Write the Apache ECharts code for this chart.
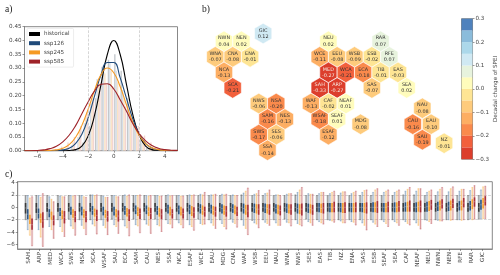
<!DOCTYPE html>
<html><head><meta charset="utf-8">
<style>html,body{margin:0;padding:0;background:#fff}#c{width:500px;height:275px}</style>
<script src="https://cdn.jsdelivr.net/npm/echarts@6/dist/echarts.min.js"></script>
</head><body><div id="c"></div>
<script>
// ---------- panel a: curves (at half-unit steps)
const curveX = [-7,-6.5,-6,-5.5,-5,-4.5,-4,-3.5,-3,-2.5,-2,-1.5,-1,-0.5,0,0.5,1,1.5,2,2.5,3,3.5,4,4.5,5];
const curveHist = [0,0,0,0,0,0,0,0.001,0.004,0.017,0.054,0.13,0.24,0.35,0.40,0.35,0.24,0.13,0.056,0.017,0.004,0.001,0,0,0];
const curve126 = [0,0,0,0,0,0.001,0.003,0.009,0.026,0.06,0.12,0.20,0.275,0.32,0.32,0.265,0.19,0.115,0.06,0.026,0.01,0.003,0.001,0,0];
const curve245 = [0,0,0,0,0.001,0.003,0.0085,0.022,0.048,0.092,0.152,0.22,0.276,0.30,0.283,0.233,0.166,0.102,0.055,0.026,0.0105,0.004,0.001,0,0];
const curve585 = [0,0,0.001,0.003,0.0075,0.016,0.032,0.056,0.09,0.134,0.178,0.217,0.241,0.243,0.224,0.185,0.143,0.098,0.062,0.036,0.019,0.0088,0.004,0.0017,0.001];
// ---------- panel a: histogram bars
const binX = [-5.25,-4.75,-4.25,-3.75,-3.25,-2.75,-2.25,-1.75,-1.25,-0.75,-0.25,0.25,0.75,1.25,1.75,2.25,2.75];
const binHist = [0,0,0,0,0.002,0.008,0.03,0.09,0.19,0.305,0.33,0.35,0.29,0.19,0.10,0.04,0.01];
const bin126 = [0,0,0.002,0.006,0.02,0.05,0.10,0.17,0.26,0.31,0.32,0.29,0.22,0.14,0.08,0.03,0.01];
const bin245 = [0,0.001,0.003,0.01,0.03,0.07,0.12,0.19,0.26,0.28,0.29,0.25,0.19,0.13,0.08,0.04,0.015];
const bin585 = [0.002,0.006,0.015,0.03,0.05,0.09,0.14,0.19,0.235,0.24,0.23,0.20,0.16,0.12,0.09,0.055,0.03];
const scenarios = ['historical','ssp126','ssp245','ssp585'];
// ---------- panel b: hexagon map
const hexNames = ['GIC','NWN','NEN','WNA','CNA','ENA','NCA','SCA','NWS','NSA','SAM','NES','SWS','SES','SSA','NEU','WCE','EEU','WSB','ESB','RFE','RAR','MED','WCA','ECA','TIB','EAS','SAH','ARP','SAS','SEA','WAF','CAF','NEAF','WSAF','SEAF','ESAF','MDG','NAU','CAU','EAU','SAU','NZ'];
const hexValues = [0.12,0.04,0.02,-0.07,-0.08,-0.01,-0.13,-0.21,-0.06,-0.20,-0.16,-0.13,-0.17,-0.06,-0.14,0.02,-0.11,-0.08,-0.09,-0.02,0.07,0.07,-0.27,-0.21,-0.18,-0.01,-0.03,-0.33,-0.27,-0.07,0.02,-0.13,-0.02,0.01,-0.18,0.01,-0.12,-0.08,-0.08,-0.16,-0.10,-0.19,-0.01];
const hexCol = [4.5,0,2,-1,1,3,0,1,4,6,5,7,4,6,5,12,11,13,15,17,19,18,12,14,16,18,20,11,13,17,21,10,12,14,11,13,12,15.7,22.8,21.7,23.8,22.8,25.3];
const hexRow = [-0.5,0,0,1,1,1,2,3,4,4,5,5,6,6,7,0,1,1,1,1,1,0,2,2,2,2,2,3,3,3,3,4,4,4,5,5,6,5.33,4.3,5.33,5.33,6.33,6.55];
const bandEdges = [-0.25,-0.2,-0.15,-0.1,-0.05,0,0.05,0.1,0.15,0.2,0.25];
const bandColors = ['#dc3e2c','#f2603c','#fa8a4c','#fdae63','#fecb7c','#fee594','#fffcbc','#e7f3dd','#d0e9f3','#acd8ea','#8bbcdb','#4f82bd'];
const cbTicks = [-0.3,-0.2,-0.1,0,0.1,0.2,0.3];
// ---------- panel c: box statistics per region
const regions = ['SAH','ARP','MED','WCA','SWS','NSA','SCA','WSAF','SAU','ECA','SAM','CAU','NES','SSA','NCA','ESAF','WCE','EAU','MDG','CNA','WAF','WSB','EEU','NAU','WNA','NWS','SES','EAS','TIB','NZ','ENA','SAS','ESB','SEAF','SEA','CAF','NEAF','NEU','NWN','NEN','RFE','RAR','GIC'];
const histLo = [-2.0,-2.0,-2.0,-2.0,-1.9,-2.0,-2.0,-2.0,-1.9,-2.0,-1.9,-2.0,-1.9,-2.0,-2.0,-2.0,-1.9,-2.0,-2.0,-1.9,-2.0,-2.1,-2.0,-2.0,-1.9,-2.0,-1.9,-2.0,-2.0,-2.0,-2.0,-2.0,-2.0,-2.0,-2.0,-2.0,-2.0,-2.0,-2.0,-2.0,-2.0,-2.0,-1.9];
const histHi = [1.9,1.9,1.9,1.9,1.9,1.9,2.0,1.9,1.9,1.9,1.9,1.9,1.9,1.9,1.9,1.9,1.9,1.9,1.9,1.9,2.0,1.9,1.9,1.9,1.9,2.0,1.9,1.9,1.9,1.9,1.9,1.9,1.9,1.9,1.9,2.0,2.0,1.9,1.9,1.9,1.9,1.9,1.9];
const histQ1 = [-1.0,-0.9,-0.7,-0.7,-0.7,-0.7,-0.7,-0.7,-0.7,-0.7,-0.7,-0.7,-0.7,-0.7,-0.7,-0.7,-0.7,-0.7,-0.7,-0.7,-0.7,-0.7,-0.7,-0.7,-0.7,-0.7,-0.7,-0.7,-0.7,-0.7,-0.7,-0.7,-0.7,-0.7,-0.7,-0.7,-0.7,-0.7,-0.7,-0.7,-0.7,-0.7,-0.7];
const histQ3 = [0.7,0.7,0.7,0.7,0.7,0.7,0.7,0.7,0.7,0.7,0.7,0.7,0.7,0.7,0.7,0.7,0.7,0.7,0.7,0.7,0.7,0.7,0.7,0.7,0.7,0.7,0.7,0.7,0.7,0.7,0.7,0.7,0.7,0.7,0.7,0.7,0.7,0.7,0.7,0.7,0.7,0.7,0.7];
const histMed = [-0.1,-0.1,0,0,0,0,0,0,0,0,0,0,0,0,0,0,0,0,0,0,0,0,0,0,0,0,0,0,0,0,0,0,0,0,0,0,0,0,0,0,0,0,0];
const b126Lo = [-3.6,-3.6,-3.1,-3.1,-3.0,-2.9,-2.7,-2.9,-2.8,-3.0,-2.8,-2.7,-2.8,-2.6,-2.5,-2.8,-2.6,-2.5,-2.6,-2.4,-2.9,-2.5,-2.4,-2.5,-2.4,-2.6,-2.3,-2.3,-2.1,-2.2,-2.3,-2.5,-2.4,-2.3,-2.3,-2.3,-2.5,-2.1,-2.1,-2.0,-2.0,-1.9,-1.8];
const b126Hi = [1.9,1.9,1.7,1.8,1.9,1.9,2.0,1.8,1.9,2.0,1.9,1.9,1.9,2.0,1.9,2.0,2.1,2.0,2.1,2.0,2.3,2.1,2.2,2.0,2.1,2.4,2.2,2.2,2.2,2.3,2.2,2.4,2.4,2.4,2.4,2.6,2.6,2.4,2.5,2.5,2.6,2.7,2.8];
const b126Q1 = [-1.9,-1.8,-1.6,-1.4,-1.2,-1.3,-1.2,-1.3,-1.3,-1.2,-1.1,-1.1,-1.2,-1.0,-1.1,-1.1,-1.0,-1.0,-1.0,-0.9,-1.0,-0.9,-0.9,-1.0,-0.9,-1.0,-0.9,-0.8,-0.8,-0.8,-0.8,-0.8,-0.8,-0.8,-0.8,-0.7,-0.8,-0.7,-0.6,-0.6,-0.5,-0.5,-0.4];
const b126Q3 = [-0.3,-0.2,-0.3,-0.1,0.1,0.1,0.2,0.1,0.1,0.2,0.3,0.3,0.2,0.4,0.3,0.4,0.5,0.4,0.5,0.5,0.6,0.6,0.6,0.5,0.6,0.6,0.6,0.7,0.7,0.7,0.7,0.7,0.8,0.7,0.8,0.8,0.8,0.9,0.9,0.9,1.0,1.0,1.2];
const b126Med = [-1.1,-1.0,-0.9,-0.7,-0.6,-0.6,-0.5,-0.6,-0.6,-0.5,-0.4,-0.4,-0.5,-0.3,-0.4,-0.3,-0.2,-0.3,-0.2,-0.2,-0.2,-0.1,-0.1,-0.2,-0.1,-0.2,-0.1,0,0,0,0,0,0,0,0,0.1,0,0.1,0.2,0.2,0.2,0.3,0.4];
const b245Lo = [-4.5,-4.8,-3.6,-3.9,-3.4,-3.4,-3.0,-3.3,-3.1,-3.3,-3.0,-2.9,-3.0,-2.7,-2.8,-3.1,-2.8,-2.9,-3.1,-2.6,-3.4,-2.7,-2.6,-2.9,-2.5,-2.8,-2.5,-2.5,-2.2,-2.5,-2.4,-2.9,-2.7,-2.6,-2.5,-2.6,-2.9,-2.3,-2.2,-2.1,-2.1,-2.0,-1.8];
const b245Hi = [1.5,1.6,1.3,1.7,1.8,1.7,1.9,1.6,1.7,1.8,1.9,1.8,1.8,1.8,1.8,1.9,2.0,2.0,2.0,1.9,2.6,2.2,2.3,2.0,2.2,2.8,2.1,2.4,2.4,2.5,2.4,2.7,2.8,2.6,2.6,2.9,3.0,2.6,2.9,3.0,2.9,3.2,3.3];
const b245Q1 = [-2.7,-2.5,-2.0,-1.9,-1.7,-1.7,-1.5,-1.7,-1.6,-1.5,-1.4,-1.4,-1.5,-1.3,-1.3,-1.4,-1.2,-1.2,-1.2,-1.1,-1.2,-1.0,-1.0,-1.1,-1.0,-1.1,-1.0,-0.9,-0.8,-0.9,-0.8,-0.9,-0.8,-0.8,-0.8,-0.7,-0.7,-0.6,-0.5,-0.5,-0.5,-0.3,-0.2];
const b245Q3 = [-1.2,-1.0,-0.7,-0.5,-0.3,-0.3,-0.2,-0.4,-0.3,-0.1,0,0,-0.1,0.1,0.1,0.2,0.3,0.2,0.3,0.3,0.4,0.5,0.5,0.4,0.5,0.5,0.5,0.6,0.7,0.7,0.7,0.7,0.8,0.7,0.8,0.9,0.9,1.0,1.1,1.1,1.1,1.3,1.5];
const b245Med = [-2.0,-1.8,-1.4,-1.2,-1.0,-1.0,-0.8,-1.0,-0.9,-0.8,-0.7,-0.7,-0.8,-0.6,-0.6,-0.6,-0.5,-0.5,-0.5,-0.4,-0.4,-0.3,-0.2,-0.4,-0.3,-0.3,-0.2,-0.2,-0.1,-0.1,0,-0.1,0,0,0,0.1,0.1,0.2,0.3,0.3,0.3,0.5,0.6];
const b585Lo = [-6.2,-6.3,-5.0,-4.7,-4.5,-4.4,-4.3,-4.4,-4.2,-4.6,-4.1,-4.2,-3.9,-3.3,-3.3,-3.7,-2.7,-3.4,-3.5,-3.2,-4.4,-3.3,-2.9,-2.9,-3.0,-3.0,-2.9,-2.7,-2.4,-2.5,-2.85,-3.65,-3.1,-3.1,-2.9,-2.85,-3.5,-2.6,-2.2,-2.0,-2.0,-1.9,-1.8];
const b585Hi = [1.7,2.2,0.9,1.7,1.9,1.6,2.0,1.6,1.7,2.0,2.0,1.9,1.8,1.9,1.8,2.0,2.4,2.1,2.1,1.9,3.1,2.7,2.8,1.9,2.2,3.2,2.1,2.4,2.6,2.5,2.6,2.8,3.0,2.8,2.8,3.2,3.0,2.8,3.2,3.3,2.9,3.5,3.4];
const b585Q1 = [-3.6,-3.3,-2.9,-2.6,-2.4,-2.4,-2.2,-2.3,-2.3,-2.2,-1.9,-1.9,-1.9,-1.8,-1.8,-1.7,-1.5,-1.5,-1.5,-1.4,-1.6,-1.2,-1.2,-1.3,-1.2,-1.3,-1.2,-1.0,-0.8,-0.9,-0.8,-1.0,-0.9,-0.8,-0.7,-0.7,-0.8,-0.4,-0.2,-0.1,0,0.1,0.3];
const b585Q3 = [-1.8,-0.8,-1.3,-0.6,-0.6,-0.6,-0.4,-0.6,-0.5,-0.3,-0.2,-0.1,-0.3,-0.3,-0.2,0,0.1,0.1,0.2,0.1,0.4,0.5,0.5,0.3,0.5,0.6,0.4,0.7,0.9,0.8,0.8,0.8,1.0,0.9,1.0,1.1,1.1,1.2,1.3,1.4,1.5,1.6,1.8];
const b585Med = [-2.8,-2.2,-2.1,-1.6,-1.5,-1.5,-1.3,-1.5,-1.4,-1.2,-1.0,-1.0,-1.1,-1.0,-1.0,-0.8,-0.7,-0.7,-0.6,-0.6,-0.6,-0.3,-0.3,-0.5,-0.3,-0.3,-0.4,-0.1,0,0,0,-0.1,0,0.1,0.1,0.2,0.1,0.4,0.5,0.6,0.7,0.9,1.0];

const curveColors = ['#000000','#1f4a7a','#f59a23','#9e2228'];
const barColors = ['#c4c8cc','#d5dee8','#fbe3c4','#f3d5d2'];
const wiskColors = ['#666666','#6f94b8','#f8b860','#c4656a'];
const paleColors = ['rgba(120,125,130,0.30)','rgba(90,130,170,0.14)','rgba(245,160,60,0.14)','rgba(190,80,80,0.16)'];
const boxColors = ['#3a3a3a','#2a5585','#f5a030','#a8303a'];
const font = 'DejaVu Sans';
const axisText = {color:'#444',fontSize:5.6,fontFamily:font};
const spine = {show:true,onZero:false,lineStyle:{color:'#888',width:1}};
const tickS = {show:true,length:2,lineStyle:{color:'#555',width:0.6}};

function bandColor(v){let i=0;while(i<bandEdges.length&&v>=bandEdges[i])i++;return bandColors[i];}
const zip2=(a,b)=>a.map((v,i)=>[v,b[i]]);

const series=[];
// histogram bars
[binHist,bin126,bin245,bin585].forEach((d,i)=>series.push({type:'bar',name:'bar'+i,xAxisIndex:0,yAxisIndex:0,data:zip2(binX,d),barWidth:1.4,barGap:'0%',itemStyle:{color:barColors[i]},silent:true,z:1}));
// curves
[curveHist,curve126,curve245,curve585].forEach((d,i)=>{
  const s={type:'line',name:scenarios[i],xAxisIndex:0,yAxisIndex:0,data:zip2(curveX,d),smooth:0.5,showSymbol:false,lineStyle:{color:curveColors[i],width:1.1},itemStyle:{color:curveColors[i]},z:3};
  if(i===0)s.markLine={silent:true,symbol:'none',label:{show:false},lineStyle:{color:'#c4c4c4',type:'dashed',width:0.7},data:[{xAxis:-2},{xAxis:2}]};
  series.push(s);
});
// hexagons
series.push({type:'scatter',xAxisIndex:1,yAxisIndex:1,clip:false,
  symbol:'path://M0,-1 L0.866,-0.5 L0.866,0.5 L0,1 L-0.866,0.5 L-0.866,-0.5 Z',
  symbolSize:[17.3,20.6],
  data:hexNames.map((n,i)=>({name:n,value:[hexCol[i],hexRow[i],hexValues[i]],itemStyle:{color:bandColor(hexValues[i])},
    label:{color:hexValues[i]<=-0.25?'#f6e8e0':'#333'}})),
  itemStyle:{borderColor:'#fff',borderWidth:0.6,opacity:1},
  label:{show:true,position:'inside',fontSize:4.9,lineHeight:6.2,fontFamily:font,
    formatter:p=>p.name+'\n'+p.value[2].toFixed(2)}});
// colour bar: bands stack separately on either side of zero
const cbOrder=[5,4,3,2,1,0,6,7,8,9,10,11];
cbOrder.forEach(k=>series.push({type:'bar',xAxisIndex:2,yAxisIndex:2,stack:'cb',barWidth:'100%',data:[k<6?-0.05:0.05],itemStyle:{color:bandColors[k]},silent:true}));
// box panel
const boxOffsets=[-0.3,-0.1,0.1,0.3];
const renderBox=(k)=>(params,api)=>{
  const x=api.value(0)+boxOffsets[k];
  const P=v=>api.coord([x,v]);
  const lo=P(api.value(1)),q1=P(api.value(2)),med=P(api.value(3)),q3=P(api.value(4)),hi=P(api.value(5));
  const px=lo[0];
  return {type:'group',children:[
    {type:'rect',shape:{x:px-1.3,y:hi[1],width:2.6,height:lo[1]-hi[1]},style:{fill:paleColors[k]}},
    {type:'line',shape:{x1:px,y1:hi[1],x2:px,y2:lo[1]},style:{stroke:wiskColors[k],lineWidth:0.6}},
    {type:'line',shape:{x1:px-0.8,y1:hi[1],x2:px+0.8,y2:hi[1]},style:{stroke:wiskColors[k],lineWidth:0.5}},
    {type:'line',shape:{x1:px-0.8,y1:lo[1],x2:px+0.8,y2:lo[1]},style:{stroke:wiskColors[k],lineWidth:0.5}},
    {type:'rect',shape:{x:px-0.8,y:q3[1],width:1.6,height:q1[1]-q3[1]},style:{fill:boxColors[k]}},
    {type:'line',shape:{x1:px-0.8,y1:med[1],x2:px+0.8,y2:med[1]},style:{stroke:'rgba(255,255,255,0.6)',lineWidth:0.5}}
  ]};
};
[[histLo,histQ1,histMed,histQ3,histHi],[b126Lo,b126Q1,b126Med,b126Q3,b126Hi],[b245Lo,b245Q1,b245Med,b245Q3,b245Hi],[b585Lo,b585Q1,b585Med,b585Q3,b585Hi]].forEach((st,k)=>{
  const s={type:'custom',xAxisIndex:3,yAxisIndex:3,clip:false,silent:true,renderItem:renderBox(k),
    data:regions.map((r,i)=>[i,st[0][i],st[1][i],st[2][i],st[3][i],st[4][i]]),encode:{x:0,y:[1,5]},z:3};
  if(k===0)s.markLine={silent:true,symbol:'none',label:{show:false},z:1,lineStyle:{color:'#c4c4c4',type:'dashed',width:0.7},data:[{yAxis:2},{yAxis:-2}]};
  series.push(s);
});

const option={
  animation:false,backgroundColor:'#fff',textStyle:{fontFamily:font},
  title:[['a)',5,4],['b)',202,4],['c)',5,169]].map(t=>({text:t[0],left:t[1],top:t[2],padding:0,textStyle:{fontFamily:'Liberation Serif',fontSize:9.5,fontWeight:'normal',color:'#222'}})),
  legend:{data:scenarios,orient:'vertical',left:27,top:28.5,itemWidth:11,itemHeight:4,itemGap:3.2,icon:'rect',padding:[2.5,4,2.5,2],
    backgroundColor:'rgba(255,255,255,0.85)',borderColor:'#ddd',borderWidth:0.5,borderRadius:1,
    textStyle:{color:'#444',fontSize:5.6,fontFamily:font,padding:[0,0,0,-1]}},
  grid:[
    {left:24.5,top:26.7,width:153,height:124,show:true,borderColor:'#888',borderWidth:1},
    {left:215.3,top:33.5,width:234.9,height:116.7,show:false},
    {left:461.5,top:18.7,width:11.5,height:140.5,show:true,borderColor:'#888',borderWidth:1},
    {left:17.7,top:181.7,width:474.6,height:67.3,show:true,borderColor:'#888',borderWidth:1}
  ],
  xAxis:[
    {type:'value',gridIndex:0,min:-7,max:5,splitLine:{show:false},axisLine:spine,axisTick:{...tickS,customValues:[-6,-4,-2,0,2,4]},
      axisLabel:{...axisText,margin:3,customValues:[-6,-4,-2,0,2,4],formatter:v=>v<0?'\u2212'+(-v):''+v}},
    {type:'value',gridIndex:1,min:-1,max:26,show:false},
    {type:'category',gridIndex:2,data:['cb'],show:false},
    {type:'value',gridIndex:3,min:-1.03,max:42.95,splitLine:{show:false},axisLine:spine,
      axisTick:{...tickS,customValues:regions.map((r,i)=>i)},
      axisLabel:{...axisText,rotate:90,margin:3,customValues:regions.map((r,i)=>i),formatter:v=>regions[v]||''}}
  ],
  yAxis:[
    {type:'value',gridIndex:0,min:0,max:0.45,interval:0.05,splitLine:{show:false},axisLine:spine,axisTick:tickS,
      axisLabel:{...axisText,margin:3,formatter:v=>v.toFixed(2)}},
    {type:'value',gridIndex:1,min:-0.5,max:7,inverse:true,show:false},
    {type:'value',gridIndex:2,position:'right',min:-0.3,max:0.3,splitLine:{show:false},axisLine:{show:false},
      axisTick:{...tickS,customValues:cbTicks},
      axisLabel:{...axisText,margin:3,customValues:cbTicks,formatter:v=>(v<0?'\u2212':'')+Math.abs(v).toFixed(1)},
      name:'Decadal change of SPEI',nameLocation:'middle',nameRotate:90,nameGap:16,nameTextStyle:{...axisText}},
    {type:'value',gridIndex:3,min:-6.72,max:4.13,splitLine:{show:false},axisLine:spine,
      axisTick:{...tickS,customValues:[-6,-4,-2,0,2,4]},
      axisLabel:{...axisText,margin:3,customValues:[-6,-4,-2,0,2,4],formatter:v=>v<0?'\u2212'+(-v):''+v}}
  ],
  series
};
echarts.init(document.getElementById('c'),null,{renderer:'canvas'}).setOption(option);
</script></body></html>
